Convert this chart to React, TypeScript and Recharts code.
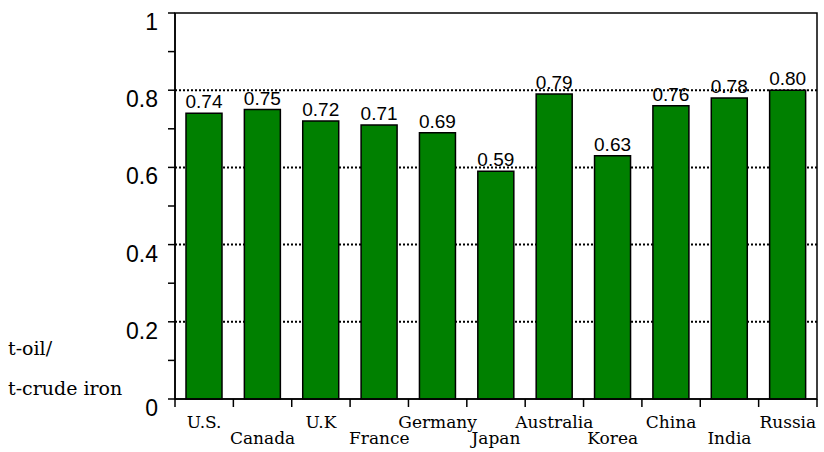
import { BarChart, Bar, XAxis, YAxis, CartesianGrid, LabelList, ReferenceArea } from 'recharts';

const countries = ['U.S.', 'Canada', 'U.K', 'France', 'Germany', 'Japan', 'Australia', 'Korea', 'China', 'India', 'Russia'];
const intensity = [0.74, 0.75, 0.72, 0.71, 0.69, 0.59, 0.79, 0.63, 0.76, 0.78, 0.80];
const yTicks = [0, 0.1, 0.2, 0.3, 0.4, 0.5, 0.6, 0.7, 0.8, 0.9, 1];
const gridLevels = [0.2, 0.4, 0.6, 0.8];
const unitLines = ['t-oil/', 't-crude iron'];

const data = countries.map((name, i) => ({ name, value: intensity[i] }));

const W = 824;
const H = 452;
const margin = { top: 13, right: 7, bottom: 0, left: 0 };
const yAxisWidth = 175;
const xAxisHeight = 53;
const band = (W - margin.right - margin.left - yAxisWidth) / countries.length;

const serif = '"DejaVu Serif", serif';
const sans = '"Liberation Sans", Arial, sans-serif';

function YTick(props: any) {
  const { x, y, payload } = props;
  const v = Math.round(payload.value * 10);
  if (v % 2 !== 0) return null;
  return (
    <text x={x} y={y + 9} dy="0.35em" textAnchor="end" fontSize={23} fontFamily={sans} fill="#000">
      {v === 10 ? '1' : v === 0 ? '0' : (v / 10).toString()}
    </text>
  );
}

function XTick(props: any) {
  const { x, y, payload, index } = props;
  const axisY = y - 10;
  return (
    <g>
      <line x1={x - band / 2} x2={x - band / 2} y1={axisY} y2={axisY + 8} stroke="#000" strokeWidth={1.5} />
      {index === countries.length - 1 && (
        <line x1={x + band / 2} x2={x + band / 2} y1={axisY} y2={axisY + 8} stroke="#000" strokeWidth={1.5} />
      )}
      <text x={x} y={y} dy={index % 2 === 0 ? 19 : 35} textAnchor="middle" fontSize={17} fontFamily={serif} fill="#000">
        {payload.value}
      </text>
    </g>
  );
}

export default function App() {
  return (
    <div style={{ position: 'absolute', left: 0, top: 0, width: W, height: H, background: '#fff' }}>
      <BarChart width={W} height={H} data={data} margin={margin}>
        <CartesianGrid
          vertical={false}
          horizontalValues={gridLevels}
          stroke="#000"
          strokeWidth={2}
          strokeDasharray="2 2"
        />
        <XAxis
          dataKey="name"
          height={xAxisHeight}
          interval={0}
          tickLine={false}
          tickSize={8}
          tickMargin={2}
          axisLine={{ stroke: '#000', strokeWidth: 1.5 }}
          tick={<XTick />}
        />
        <YAxis
          width={yAxisWidth}
          domain={[0, 1]}
          ticks={yTicks}
          interval={0}
          tickSize={7}
          tickMargin={10}
          tickLine={{ stroke: '#000', strokeWidth: 1.5 }}
          axisLine={{ stroke: '#000', strokeWidth: 1.5 }}
          tick={<YTick />}
        />
        <ReferenceArea y1={0} y2={1} fill="none" stroke="#000" strokeWidth={1.5} />
        <Bar dataKey="value" fill="#008000" stroke="#000" strokeWidth={1.5} barSize={36} isAnimationActive={false}>
          <LabelList
            dataKey="value"
            position="top"
            offset={5}
            formatter={(v: any) => Number(v).toFixed(2)}
            fontSize={19}
            fontFamily={sans}
            fill="#000"
          />
        </Bar>
      </BarChart>
      {unitLines.map((t, i) => (
        <div
          key={t}
          style={{
            position: 'absolute',
            left: 8,
            top: 337 + i * 40,
            fontFamily: serif,
            fontSize: 19,
            lineHeight: '22px',
            color: '#000',
            whiteSpace: 'nowrap',
          }}
        >
          {t}
        </div>
      ))}
    </div>
  );
}
